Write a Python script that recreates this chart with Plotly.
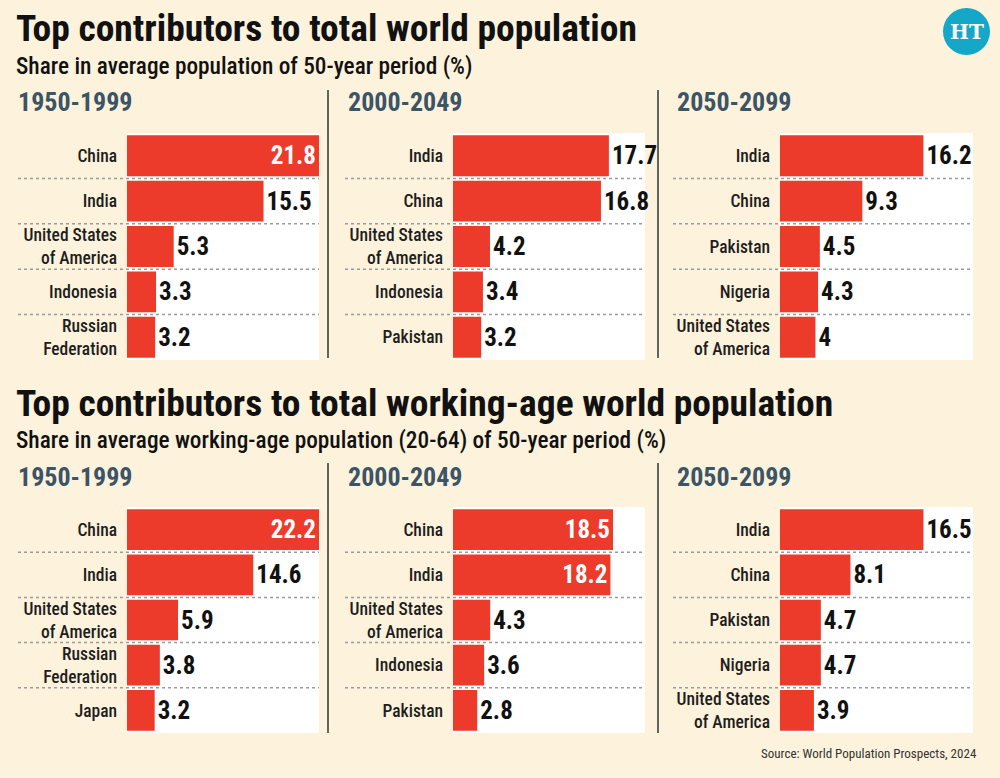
import plotly.graph_objects as go

# ---------------- data ----------------
periods = ["1950-1999", "2000-2049", "2050-2099"]

total_1950_countries = ["China", "India", "United States<br>of America", "Indonesia", "Russian<br>Federation"]
total_1950_values = [21.8, 15.5, 5.3, 3.3, 3.2]
total_2000_countries = ["India", "China", "United States<br>of America", "Indonesia", "Pakistan"]
total_2000_values = [17.7, 16.8, 4.2, 3.4, 3.2]
total_2050_countries = ["India", "China", "Pakistan", "Nigeria", "United States<br>of America"]
total_2050_values = [16.2, 9.3, 4.5, 4.3, 4]

work_1950_countries = ["China", "India", "United States<br>of America", "Russian<br>Federation", "Japan"]
work_1950_values = [22.2, 14.6, 5.9, 3.8, 3.2]
work_2000_countries = ["China", "India", "United States<br>of America", "Indonesia", "Pakistan"]
work_2000_values = [18.5, 18.2, 4.3, 3.6, 2.8]
work_2050_countries = ["India", "China", "Pakistan", "Nigeria", "United States<br>of America"]
work_2050_values = [16.5, 8.1, 4.7, 4.7, 3.9]

title_total = "Top contributors to total world population"
sub_total = "Share in average population of 50-year period (%)"
title_work = "Top contributors to total working-age world population"
sub_work = "Share in average working-age population (20-64) of 50-year period (%)"
source_text = "Source: World Population Prospects, 2024"

# ---------------- style ----------------
W, H = 1000, 778
BG = "#fdf2dc"
RED = "#ec3b2b"
SLATE = "#3b5466"
FONT = "Roboto Condensed, DejaVu Sans Condensed, sans-serif"


def fx(px):
    return px / W


def fy(py):
    return 1 - py / H


panel_x = [(127, 319), (453, 645), (780, 973)]
panel_sep_left = [18, 345, 673]
row_y = [(133, 360), (507, 733)]
period_x = [16, 346, 675]

groups = [
    [(total_1950_countries, total_1950_values),
     (total_2000_countries, total_2000_values),
     (total_2050_countries, total_2050_values)],
    [(work_1950_countries, work_1950_values),
     (work_2000_countries, work_2000_values),
     (work_2050_countries, work_2050_values)],
]

fig = go.Figure()
shapes = []
annotations = []
layout_axes = {}

k = 0
for r, group in enumerate(groups):
    xmax = max(max(v) for _, v in group)
    for c, (cats, vals) in enumerate(group):
        k += 1
        xa = "x" if k == 1 else f"x{k}"
        ya = "y" if k == 1 else f"y{k}"
        positions = ["inside" if v >= 18 else "outside" for v in vals]
        fig.add_trace(go.Bar(
            x=vals, y=cats, orientation="h",
            xaxis=xa, yaxis=ya,
            marker=dict(color=RED, line=dict(width=0)),
            texttemplate="%{x}",
            textposition=positions,
            insidetextanchor="end",
            insidetextfont=dict(family=FONT, size=25, color="white", weight="bold"),
            outsidetextfont=dict(family=FONT, size=25, color="#111111", weight="bold"),
            cliponaxis=False,
            showlegend=False,
            hoverinfo="skip",
        ))
        x0, x1 = panel_x[c]
        y0, y1 = row_y[r]
        xkey = "xaxis" if k == 1 else f"xaxis{k}"
        ykey = "yaxis" if k == 1 else f"yaxis{k}"
        layout_axes[xkey] = dict(
            domain=[fx(x0), fx(x1)], anchor=ya, range=[0, xmax],
            showgrid=False, zeroline=False, showticklabels=False,
            showline=False, fixedrange=True,
        )
        layout_axes[ykey] = dict(
            domain=[fy(y1), fy(y0)], anchor=xa, type="category",
            categoryorder="array", categoryarray=cats,
            range=[len(cats) - 0.5, -0.5],
            showgrid=False, zeroline=False, showline=False,
            ticks="", ticklabelstandoff=9,
            tickfont=dict(family=FONT, size=17.5, color="#1e1e1e", weight=500),
        )
        # white plotting area
        shapes.append(dict(type="rect", xref="paper", yref="paper",
                           x0=fx(x0), x1=fx(x1), y0=fy(y1), y1=fy(y0),
                           fillcolor="white", line=dict(width=0), layer="below"))
        # dotted row separators
        for i in range(len(cats) - 1):
            shapes.append(dict(type="line", xref="paper", yref=ya,
                               x0=fx(panel_sep_left[c]), x1=fx(x1),
                               y0=i + 0.5, y1=i + 0.5,
                               line=dict(color="#9a9a9a", width=1.5, dash="dot"),
                               layer="above"))
        # period label
        annotations.append(dict(
            text=f"<b>{periods[c]}</b>", xref="paper", yref="paper",
            x=fx(period_x[c]), y=fy(102 if r == 0 else 477),
            xanchor="left", yanchor="middle", showarrow=False,
            font=dict(family=FONT, size=26, color=SLATE)))

# vertical separators
for xs in (328, 658):
    shapes.append(dict(type="line", xref="paper", yref="paper",
                       x0=fx(xs), x1=fx(xs), y0=fy(90), y1=fy(358),
                       line=dict(color="#333333", width=1.5)))
    shapes.append(dict(type="line", xref="paper", yref="paper",
                       x0=fx(xs), x1=fx(xs), y0=fy(463), y1=fy(733),
                       line=dict(color="#333333", width=1.5)))

# HT logo circle
shapes.append(dict(type="circle", xref="paper", yref="paper",
                   x0=fx(943), x1=fx(990), y0=fy(55), y1=fy(8),
                   fillcolor="#15a7c8", line=dict(width=0)))
annotations.append(dict(text="<b>HT</b>", xref="paper", yref="paper",
                        x=fx(966.5), y=fy(32), xanchor="center", yanchor="middle",
                        showarrow=False,
                        font=dict(family="DejaVu Serif, serif", size=20, color="white")))

# titles
for txt, ypx, size, bold in [
    (title_total, 28, 37.5, True),
    (sub_total, 66, 23.3, False),
    (title_work, 403, 37.5, True),
    (sub_work, 440, 23.3, False),
]:
    annotations.append(dict(
        text=f"<b>{txt}</b>" if bold else txt, xref="paper", yref="paper",
        x=fx(14), y=fy(ypx), xanchor="left", yanchor="middle", showarrow=False,
        font=dict(family=FONT, size=size, color="#111111", weight=500 if not bold else None)))

annotations.append(dict(text=source_text, xref="paper", yref="paper",
                        x=fx(979), y=fy(753), xanchor="right", yanchor="middle",
                        showarrow=False,
                        font=dict(family=FONT, size=13, color="#333333")))

fig.update_layout(
    width=W, height=H,
    margin=dict(l=0, r=0, t=0, b=0),
    paper_bgcolor=BG, plot_bgcolor="white",
    bargap=0.1,
    shapes=shapes, annotations=annotations,
    **layout_axes,
)

fig.write_html("out.html")
